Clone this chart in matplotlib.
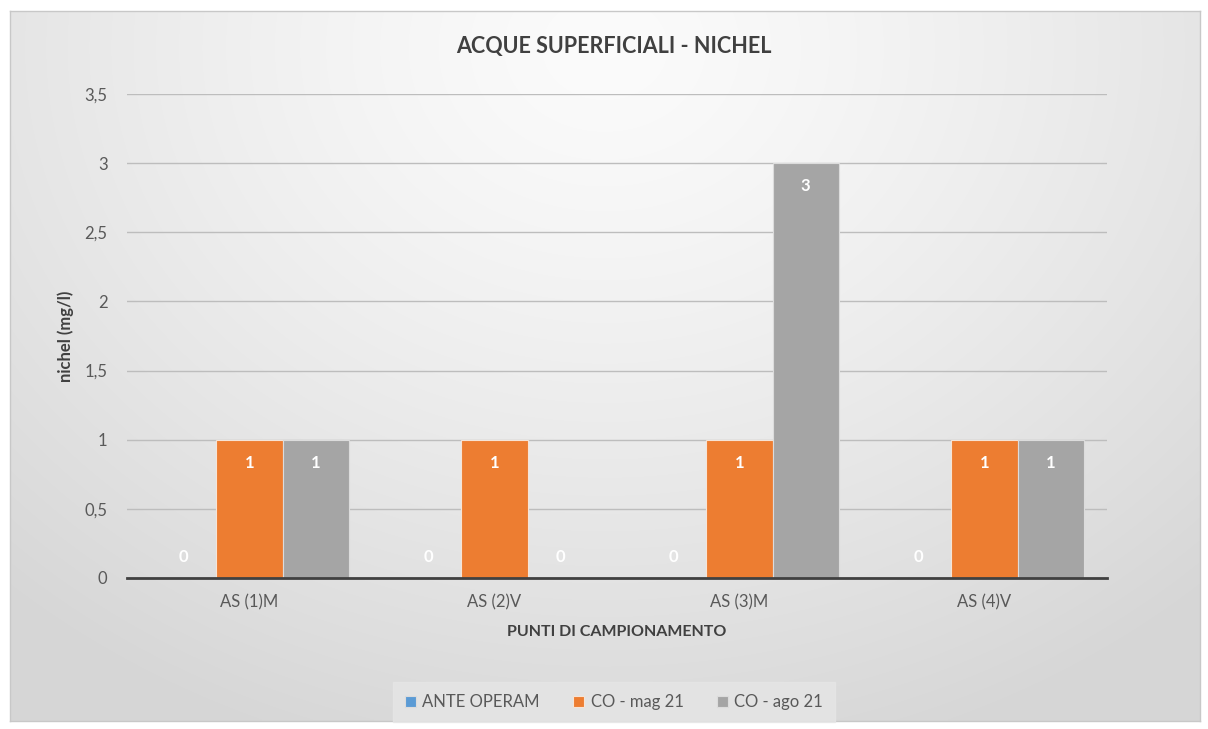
import numpy as np
import matplotlib
matplotlib.use("Agg")
import matplotlib.pyplot as plt

plt.rcParams['font.family'] = ['Lato', 'DejaVu Sans']

categories = ["AS (1)M", "AS (2)V", "AS (3)M", "AS (4)V"]
series_names = ["ANTE OPERAM", "CO - mag 21", "CO - ago 21"]
ante_operam = [0, 0, 0, 0]
co_mag21 = [1, 1, 1, 1]
co_ago21 = [1, 0, 3, 1]
yticks = [0, 0.5, 1, 1.5, 2, 2.5, 3, 3.5]
ytick_labels = ["0", "0,5", "1", "1,5", "2", "2,5", "3", "3,5"]
colors = ["#5B9BD5", "#ED7D31", "#A5A5A5"]

W, H = 1208, 729
fig = plt.figure(figsize=(W/100, H/100), dpi=100)
fig.patch.set_facecolor("white")

# background gradient panel
bx0, by0, bx1, by1 = 10, 11, 1200, 721
bg = fig.add_axes([bx0/W, 1-by1/H, (bx1-bx0)/W, (by1-by0)/H])
nx, ny = 400, 240
xx, yy = np.meshgrid(np.linspace(0, 1, nx), np.linspace(0, 1, ny))
r = np.sqrt(((xx-0.5)/0.75)**2 + ((yy-0.05)/1.05)**2)
r = np.clip(r, 0, 1)
val = 0.985 - (0.985-0.84)*r**1.3
bg.imshow(np.dstack([val, val, val]), extent=[0, 1, 0, 1], origin='upper', aspect='auto', interpolation='bilinear')
bg.set_xlim(0, 1); bg.set_ylim(0, 1)
bg.set_xticks([]); bg.set_yticks([])
for s in bg.spines.values():
    s.set_color("#c8c8c8"); s.set_linewidth(1)

# plot area
px0, px1, py0, py1 = 127, 1107, 94, 578
ax = fig.add_axes([px0/W, 1-py1/H, (px1-px0)/W, (py1-py0)/H])
ax.patch.set_alpha(0)
ax.set_ylim(0, 3.5)
ax.set_xlim(-0.5, len(categories)-0.5)

x = np.arange(len(categories))
bw = 0.27
all_series = [ante_operam, co_mag21, co_ago21]
for i, (vals, name, c) in enumerate(zip(all_series, series_names, colors)):
    pos = x + (i-1)*bw
    ax.bar(pos, vals, width=bw, color=c, edgecolor="#f6e4d6" if i == 1 else "#dcdcdc",
           linewidth=0.8, label=name, zorder=3)
    for xp, v in zip(pos, vals):
        off = -23 if v > 0 else 21
        ax.annotate(str(v), (xp, v), xytext=(0, off), textcoords="offset pixels",
                    ha="center", va="center", color="white", fontsize=12, fontweight="bold", zorder=4)

ax.set_yticks(yticks)
ax.set_yticklabels(ytick_labels)
ax.grid(axis="y", color="#bdbdbd", linewidth=1, zorder=0)
ax.set_axisbelow(True)
ax.set_xticks(x)
ax.set_xticklabels(categories)
ax.tick_params(axis="both", length=0, labelsize=12, colors="#595959")
ax.tick_params(axis="x", pad=12)
ax.tick_params(axis="y", pad=14)
for s in ["top", "right", "left"]:
    ax.spines[s].set_visible(False)
ax.spines["bottom"].set_color("#404040")
ax.spines["bottom"].set_linewidth(2)
ax.spines["bottom"].set_zorder(5)

ax.set_ylabel("nichel (mg/l)", fontsize=12, fontweight="bold", color="#404040", va="center")
ax.yaxis.set_label_coords((66-px0)/(px1-px0), 0.5)
ax.set_xlabel("PUNTI DI CAMPIONAMENTO", fontsize=11.5, fontweight="bold", color="#404040", va="center")
ax.xaxis.set_label_coords(0.5, -(632-py1)/(py1-py0))

fig.text(614/W, 1-46/H, "ACQUE SUPERFICIALI - NICHEL", ha="center", va="center",
         fontsize=15.5, fontweight="bold", color="#404040")

leg = fig.legend(loc="center", bbox_to_anchor=(614/W, 1-702/H), ncol=3, frameon=True,
                 fontsize=12, handlelength=0.65, handleheight=0.65, handletextpad=0.4,
                 columnspacing=2.0, borderpad=0.7)
leg.get_frame().set_facecolor("#e6e6e6")
leg.get_frame().set_edgecolor("#e6e6e6")
leg.get_frame().set_boxstyle("square", pad=0)
for t in leg.get_texts():
    t.set_color("#595959")

fig.savefig("out.png", dpi=100)
